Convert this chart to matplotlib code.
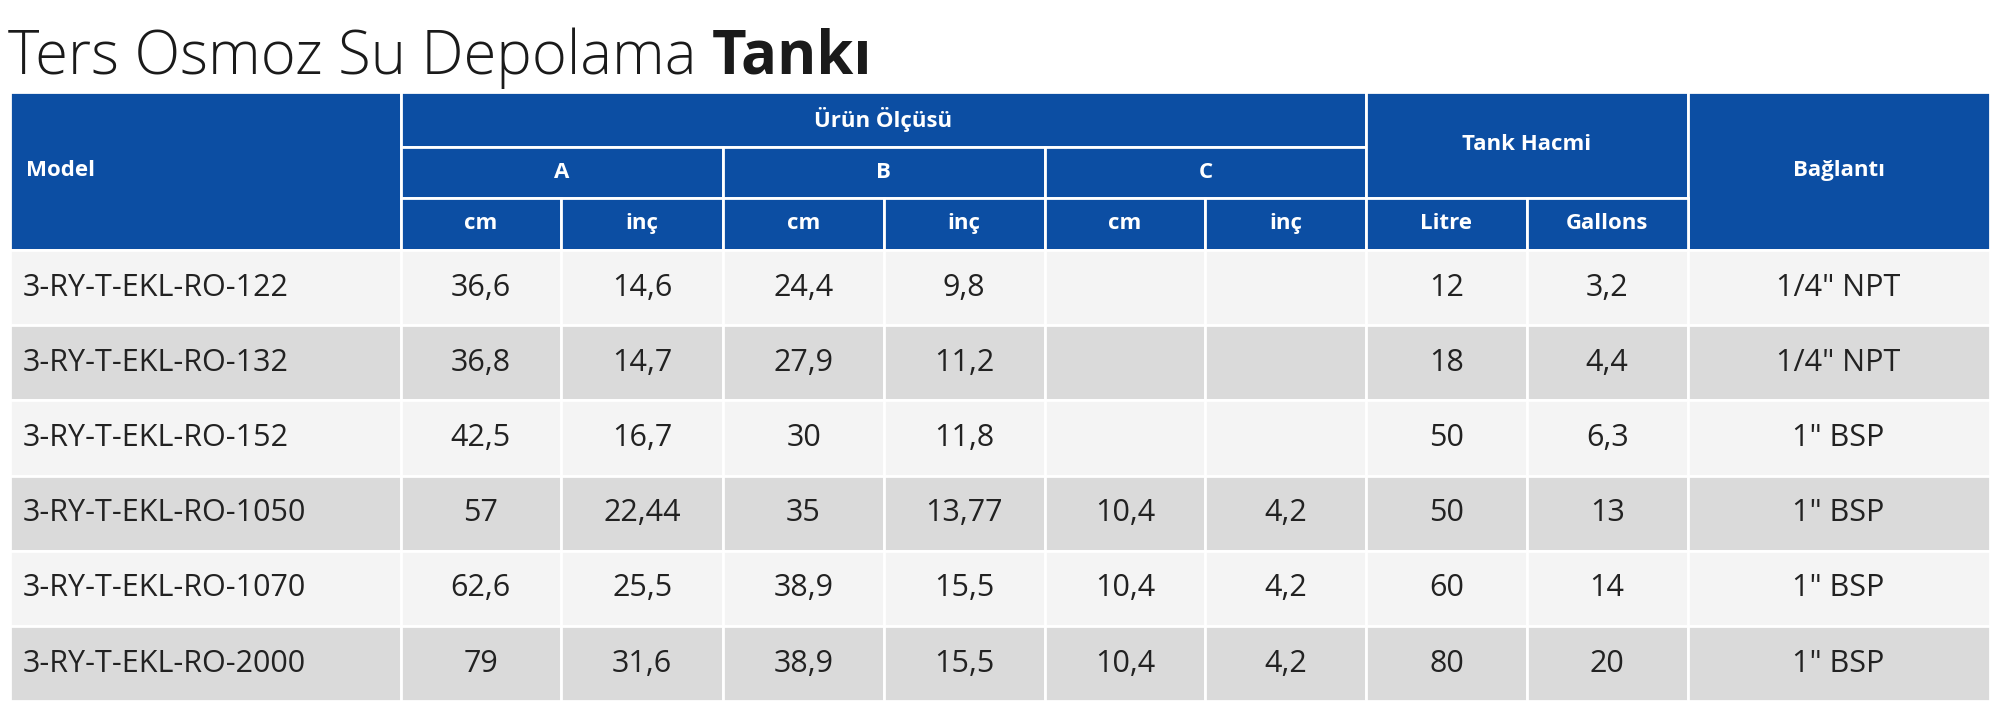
import matplotlib
matplotlib.use("Agg")
import matplotlib.pyplot as plt
from matplotlib.patches import Rectangle

title_regular = "Ters Osmoz Su Depolama "
title_bold = "Tankı"
models = ["3-RY-T-EKL-RO-122", "3-RY-T-EKL-RO-132", "3-RY-T-EKL-RO-152",
          "3-RY-T-EKL-RO-1050", "3-RY-T-EKL-RO-1070", "3-RY-T-EKL-RO-2000"]
a_cm = ["36,6", "36,8", "42,5", "57", "62,6", "79"]
a_inc = ["14,6", "14,7", "16,7", "22,44", "25,5", "31,6"]
b_cm = ["24,4", "27,9", "30", "35", "38,9", "38,9"]
b_inc = ["9,8", "11,2", "11,8", "13,77", "15,5", "15,5"]
c_cm = ["", "", "", "10,4", "10,4", "10,4"]
c_inc = ["", "", "", "4,2", "4,2", "4,2"]
litre = ["12", "18", "50", "50", "60", "80"]
gallons = ["3,2", "4,4", "6,3", "13", "14", "20"]
baglanti = ["1/4\" NPT", "1/4\" NPT", "1\" BSP", "1\" BSP", "1\" BSP", "1\" BSP"]

W, H = 1568, 560
fig = plt.figure(figsize=(20, 7.14), dpi=100)
ax = fig.add_axes([0, 0, 1, 1])
ax.set_xlim(0, W); ax.set_ylim(H, 0); ax.axis("off")
FONT = "Open Sans"
BLUE = "#0c4ea3"
cols = [8, 314, 440, 567, 693, 819, 945, 1071, 1197, 1323, 1560]
hy = [72, 115, 155, 196]
row_h = 59
lw = 2

def cell(x0, x1, y0, y1, color):
    ax.add_patch(Rectangle((x0, y0), x1 - x0, y1 - y0, facecolor=color,
                           edgecolor="white", linewidth=lw))

# title
t = ax.text(6, 58, title_regular, fontsize=43, family=FONT, fontweight="light", color="#1a1a1a", va="baseline")
fig.canvas.draw()
bb = t.get_window_extent().transformed(ax.transData.inverted())
ax.text(bb.x1, 58, title_bold, fontsize=43, family=FONT, fontweight="bold", color="#1a1a1a", va="baseline")

# header
hdr = dict(color="white", family=FONT, fontweight="bold", fontsize=16, ha="center", va="center")
cell(cols[0], cols[1], hy[0], hy[3], BLUE)
ax.text(20, (hy[0] + hy[3]) / 2, "Model", **{**hdr, "ha": "left"})
cell(cols[1], cols[7], hy[0], hy[1], BLUE)
ax.text((cols[1] + cols[7]) / 2, (hy[0] + hy[1]) / 2, "Ürün Ölçüsü", **hdr)
for i, lab in enumerate(["A", "B", "C"]):
    x0, x1 = cols[1 + 2 * i], cols[3 + 2 * i]
    cell(x0, x1, hy[1], hy[2], BLUE)
    ax.text((x0 + x1) / 2, (hy[1] + hy[2]) / 2, lab, **hdr)
cell(cols[7], cols[9], hy[0], hy[2], BLUE)
ax.text((cols[7] + cols[9]) / 2, (hy[0] + hy[2]) / 2, "Tank Hacmi", **hdr)
cell(cols[9], cols[10], hy[0], hy[3], BLUE)
ax.text((cols[9] + cols[10]) / 2, (hy[0] + hy[3]) / 2, "Bağlantı", **hdr)
subs = ["cm", "inç", "cm", "inç", "cm", "inç", "Litre", "Gallons"]
for i, s in enumerate(subs):
    x0, x1 = cols[1 + i], cols[2 + i]
    cell(x0, x1, hy[2], hy[3], BLUE)
    ax.text((x0 + x1) / 2, (hy[2] + hy[3]) / 2, s, **hdr)

# body
data = list(zip(models, a_cm, a_inc, b_cm, b_inc, c_cm, c_inc, litre, gallons, baglanti))
for r, row in enumerate(data):
    y0 = hy[3] + r * row_h
    y1 = y0 + row_h
    color = "#f4f4f4" if r % 2 == 0 else "#dadada"
    for c in range(10):
        cell(cols[c], cols[c + 1], y0, y1, color)
        if c == 0:
            ax.text(18, (y0 + y1) / 2, row[c], family=FONT, fontsize=22, color="#222222", ha="left", va="center")
        else:
            ax.text((cols[c] + cols[c + 1]) / 2, (y0 + y1) / 2, row[c], family=FONT, fontsize=22,
                    color="#222222", ha="center", va="center")

fig.savefig("out.png", dpi=100, facecolor="white")
